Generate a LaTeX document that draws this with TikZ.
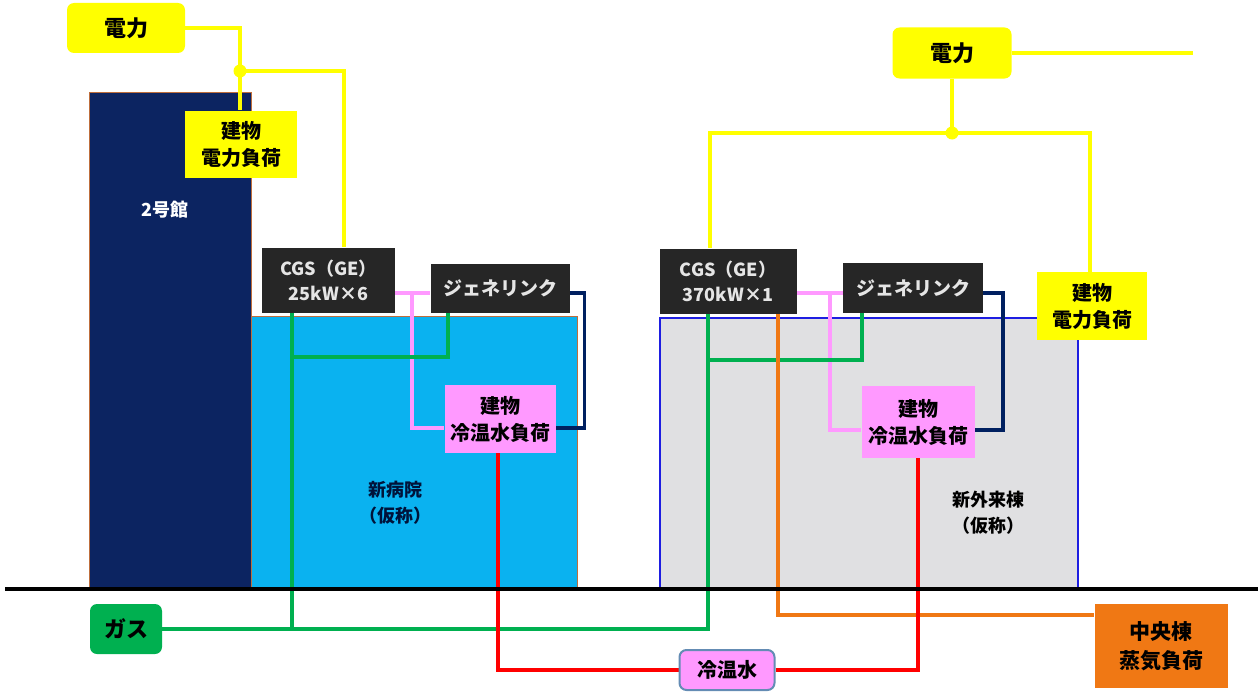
\documentclass[tikz,border=0pt]{standalone}
\usepackage{fontspec}
\setmainfont{Noto Sans CJK JP}
\usetikzlibrary{calc}
\definecolor{navyb}{RGB}{12,36,97}
\definecolor{cyanb}{RGB}{10,178,240}
\definecolor{grayb}{RGB}{224,224,226}
\definecolor{blueb}{RGB}{30,30,225}
\definecolor{brownb}{RGB}{190,110,60}
\definecolor{yel}{RGB}{255,255,0}
\definecolor{darkbox}{RGB}{38,38,38}
\definecolor{pinkb}{RGB}{255,153,255}
\definecolor{greenb}{RGB}{0,176,80}
\definecolor{orangeb}{RGB}{240,120,20}
\definecolor{navyl}{RGB}{0,32,96}
\definecolor{steel}{RGB}{100,140,180}
\pgfdeclarelayer{bgA}
\pgfdeclarelayer{bgB}
\pgfsetlayers{bgA,bgB,main}
\tikzset{
  lbl/.style={font=\bfseries\fontsize{20}{27}\selectfont, align=center, inner sep=0pt},
  ybox/.style={lbl, fill=yel, text=black},
  yround/.style={ybox, rounded corners=7pt, font=\bfseries\fontsize{22}{27}\selectfont},
  dbox/.style={lbl, fill=darkbox, text=white!90!black, font=\bfseries\fontsize{18}{25}\selectfont},
  pbox/.style={lbl, fill=pinkb, text=black},
  yline/.style={draw=yel, line width=4pt},
  gline/.style={draw=greenb, line width=3.5pt},
  pline/.style={draw=pinkb, line width=3.5pt},
  nline/.style={draw=navyl, line width=3.5pt},
  oline/.style={draw=orangeb, line width=3.5pt},
  rline/.style={draw=red, line width=3.5pt},
}
\begin{document}
\begin{tikzpicture}[x=1pt,y=-1pt]
\useasboundingbox (0,0) rectangle (1258,693);
% nodes
\node[yround, minimum width=118, minimum height=50] (pwrL) at (126,28) {電力};
\node[ybox, minimum width=112, minimum height=67] (loadL) at (241,144) {建物\\電力負荷};
\node[dbox, minimum width=133, minimum height=65] (cgsL) at (328.5,280) {CGS（GE）\\25kW×6};
\node[dbox, minimum width=139, minimum height=49, font=\bfseries\fontsize{19}{25}\selectfont] (genL) at (500,288) {ジェネリンク};
\node[pbox, minimum width=111, minimum height=68] (coolL) at (500,419) {建物\\冷温水負荷};
\node[yround, minimum width=119, minimum height=51] (pwrR) at (952,53) {電力};
\node[dbox, minimum width=137, minimum height=65] (cgsR) at (728,281) {CGS（GE）\\370kW×1};
\node[dbox, minimum width=140, minimum height=50, font=\bfseries\fontsize{19}{25}\selectfont] (genR) at (913,288) {ジェネリンク};
\node[pbox, minimum width=113, minimum height=72] (coolR) at (918,422) {建物\\冷温水負荷};
\node[ybox, minimum width=110, minimum height=68] (loadR) at (1092,306) {建物\\電力負荷};
\node[lbl, fill=greenb, rounded corners=7pt, minimum width=72, minimum height=50, font=\bfseries\fontsize{22}{27}\selectfont] (gas) at (126,629) {ガス};
\node[lbl, fill=pinkb, draw=steel, line width=2pt, rounded corners=7pt, minimum width=95, minimum height=40] (chw) at (727,670) {冷温水};
\node[lbl, fill=orangeb, minimum width=133, minimum height=84, font=\bfseries\fontsize{21}{29}\selectfont] (steam) at (1161,646) {中央棟\\蒸気負荷};
\node[lbl, text=white, font=\bfseries\fontsize{18}{24}\selectfont] (b2lbl) at (165,210) {2号館};
\node[lbl, text=navyl!60!black, font=\bfseries\fontsize{18}{26}\selectfont] (hosplbl) at (395,503) {新病院\\（仮称）};
\node[lbl, text=black, font=\bfseries\fontsize{18}{26}\selectfont] (outlbl) at (988,513) {新外来棟\\（仮称）};
% coordinates
\coordinate (jL) at (240,71);
\coordinate (jR) at (952,133);
\coordinate (pL) at (412,293);
\coordinate (pR) at (830,293);
\coordinate (gL1) at (292,357);
\coordinate (gR1) at (708,360);
\coordinate (pwrEnd) at (1193,53);
\coordinate (gndA) at (5,589);
\coordinate (gndB) at (1258,589);
% buildings
\begin{pgfonlayer}{bgA}
\fill[navyb, draw=brownb, line width=1pt] (89,92) rectangle (251,589);
\fill[cyanb, draw=brownb, line width=1pt] (251,316) rectangle (577,589);
\fill[grayb, draw=blueb, line width=2.5pt] (660,318) rectangle (1078,588);
\end{pgfonlayer}
% connectors
\begin{pgfonlayer}{bgB}
\draw[yline] (pwrL.east) -| (jL);
\draw[yline] (jL) -- (loadL.north -| jL);
\draw[yline] (jL) -| ([xshift=15.5pt]cgsL.north);
\fill[yel] (jL) circle (6.5);
\draw[yline] (pwrR.east) -- (pwrEnd);
\draw[yline] (pwrR.south) -- (jR);
\draw[yline] (jR) -| ([xshift=-18pt]cgsR.north);
\draw[yline] (jR) -| ([xshift=-2pt]loadR.north);
\fill[yel] (jR) circle (6.5);
% pink
\draw[pline] ([yshift=-13pt]cgsL.east) -- ([yshift=-5pt]genL.west);
\draw[pline] (pL) |- ([yshift=-9pt]coolL.west);
\draw[pline] ([yshift=-12pt]cgsR.east) -- ([yshift=-5pt]genR.west);
\draw[pline] (pR) |- ([yshift=-8pt]coolR.west);
% navy
\draw[nline] ([yshift=-5pt]genL.east) -- ++(15,0) |- ([yshift=-9pt]coolL.east);
\draw[nline] ([yshift=-5pt]genR.east) -- ++(20,0) |- ([yshift=-8pt]coolR.east);
% green
\draw[gline] (gas.east) -| ([xshift=-20pt]cgsR.south);
\draw[gline] ([xshift=-36.5pt]cgsL.south) -- ([xshift=-36.5pt]cgsL.south |- gas.east);
\draw[gline] ([xshift=-52pt]genL.south) |- (gL1);
\draw[gline] ([xshift=-51pt]genR.south) |- (gR1);
% orange
\draw[oline] ([xshift=50pt]cgsR.south) |- ([yshift=31pt]steam.west);
% red
\draw[rline] ([xshift=-2pt]coolL.south) |- (chw.west);
\draw[rline] (chw.east) -| (coolR.south);
% ground
\draw[black, line width=4.5pt] (gndA) -- (gndB);
\end{pgfonlayer}
\end{tikzpicture}
\end{document}
